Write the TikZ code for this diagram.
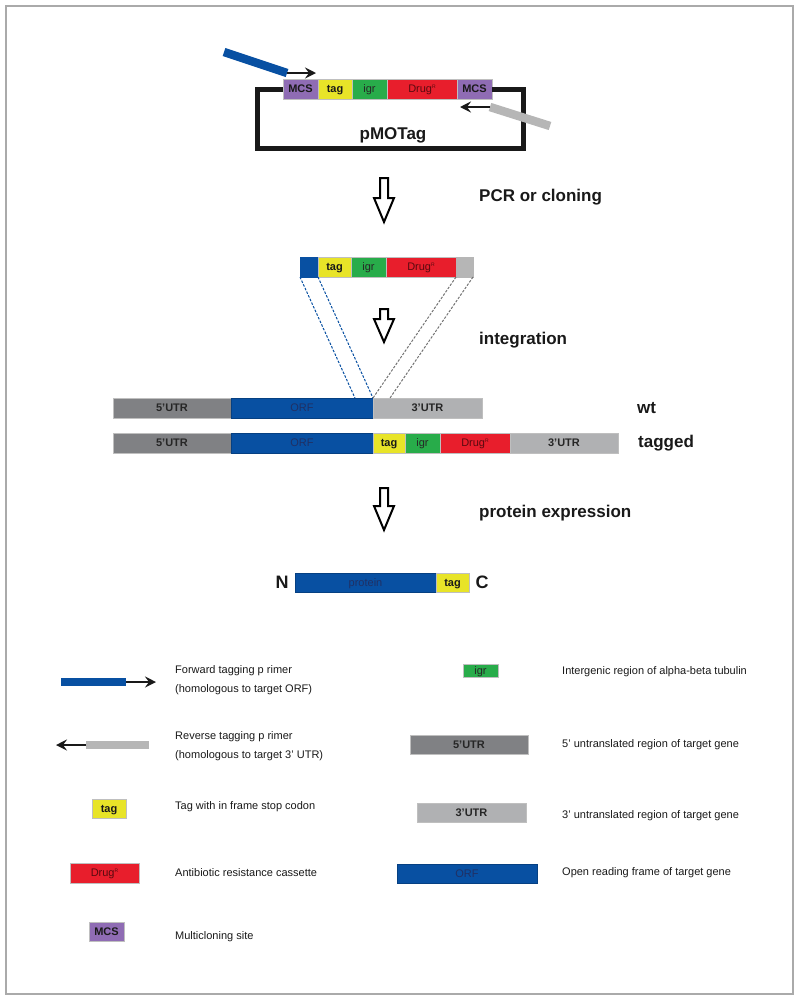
\documentclass[tikz,border=0pt]{standalone}
\usepackage{fontspec}
\setmainfont{Liberation Sans}
\usetikzlibrary{arrows.meta}
\definecolor{mcsc}{RGB}{143,108,180}
\definecolor{tagc}{RGB}{232,228,40}
\definecolor{igrc}{RGB}{40,172,74}
\definecolor{drugc}{RGB}{232,30,44}
\definecolor{orfc}{RGB}{8,80,162}
\definecolor{utrf}{RGB}{128,129,132}
\definecolor{utrt}{RGB}{176,177,179}
\definecolor{primg}{RGB}{182,182,182}
\definecolor{orftext}{RGB}{32,48,100}
\definecolor{framec}{RGB}{170,170,170}
\newcommand\drugR{Drug\raisebox{0.8ex}{\fontsize{5}{5}\selectfont R}}
\newcommand\segbox[7]{\node[#6, minimum width={#4-#2}, minimum height={#5-#3}] (#1) at ({(#2+#4)/2},{(#3+#5)/2}) {#7};}
\newcommand\hollowarrow[4]{\draw[hollowarr] ({#1-4},#2) -- ({#1-4},#3) -- ({#1-10},#3) -- (#1,#4) -- ({#1+10},#3) -- ({#1+4},#3) -- ({#1+4},#2) -- cycle;}
\tikzset{
  seg/.style={inner sep=0pt, outer sep=0pt, draw=black!25, line width=0.4pt, text=black!90, font=\fontsize{11}{12}\selectfont, text height=7.9pt, text depth=0pt},
  mcsbox/.style={seg, fill=mcsc, font=\fontsize{11}{12}\selectfont\bfseries},
  tagbox/.style={seg, fill=tagc, font=\fontsize{11}{12}\selectfont\bfseries},
  igrbox/.style={seg, fill=igrc, text=black!85},
  drugbox/.style={seg, fill=drugc, text={rgb,255:red,90;green,10;blue,15}},
  orfbox/.style={seg, fill=orfc, draw=orfc!80!black, text=orftext},
  fivebox/.style={seg, fill=utrf, text=black!85, font=\fontsize{11}{12}\selectfont\bfseries},
  threebox/.style={seg, fill=utrt, text=black!85, font=\fontsize{11}{12}\selectfont\bfseries},
  primgbox/.style={seg, fill=primg, draw=primg},
  bluebox/.style={seg, fill=orfc, draw=orfc},
  steplabel/.style={anchor=west, inner sep=0pt, font=\fontsize{17}{20}\selectfont\bfseries, text=black!90},
  bigletter/.style={inner sep=0pt, font=\fontsize{18}{20}\selectfont\bfseries, text=black!90},
  legtext/.style={anchor=west, inner sep=0pt, align=left, font=\fontsize{11}{19}\selectfont, text=black!90},
  hollowarr/.style={draw=black, line width=2pt, line join=miter, fill=white},
  primerblue/.style={draw=orfc, line width=8.5pt, line cap=butt},
  primergray/.style={draw=primg, line width=8.5pt, line cap=butt},
  primerarrow/.style={draw=black!90, line width=2.6pt, -{Stealth[length=11pt,width=11pt,inset=4pt]}},
  loopline/.style={draw=black!90, line width=5pt, line join=miter},
  bluedash/.style={draw=orfc, line width=1pt, dash pattern=on 2.5pt off 1.5pt},
  graydash/.style={draw=black!55, line width=1pt, dash pattern=on 2.5pt off 1.5pt}
}
\begin{document}
\begin{tikzpicture}[x=1pt, y=-1pt]
\useasboundingbox (0,0) rectangle (800,1002);
\draw[framec, line width=1.2pt] (6,6) rectangle (793,994);

% plasmid
\segbox{m1}{283}{79}{318}{99}{mcsbox}{MCS}
\segbox{pt}{318}{79}{352}{99}{tagbox}{tag}
\segbox{pi}{352}{79}{387}{99}{igrbox}{igr}
\segbox{pd}{387}{79}{457}{99}{drugbox}{\drugR}
\segbox{m2}{457}{79}{492}{99}{mcsbox}{MCS}
\draw[loopline] (m1.west) -- (257,89) -- (257,148) -- (523,148) -- (523,89) -- (m2.east);
\node[inner sep=0pt, font=\fontsize{17}{20}\selectfont\bfseries, text=black!90] (pmo) at (393,135) {pMOTag};
\coordinate (fb1) at (224,52);
\coordinate (fb2) at (287,73);
\coordinate (fa) at (316,73);
\draw[primerblue] (fb1) -- (fb2);
\draw[primerarrow] (fb2) -- (fa);
\coordinate (rb1) at (550,126);
\coordinate (rb2) at (490,107);
\coordinate (ra) at (460,107);
\draw[primergray] (rb1) -- (rb2);
\draw[primerarrow] (rb2) -- (ra);

% step 1
\hollowarrow{384}{178}{198}{222}
\node[steplabel] (s1) at (479,197) {PCR or cloning};

% cassette
\segbox{cb}{300}{257}{318}{277}{bluebox}{}
\segbox{ct}{318}{257}{351}{277}{tagbox}{tag}
\segbox{ci}{351}{257}{386}{277}{igrbox}{igr}
\segbox{cd}{386}{257}{456}{277}{drugbox}{\drugR}
\segbox{cg}{456}{257}{473}{277}{primgbox}{}

% step 2
\hollowarrow{384}{309}{319}{342}
\node[steplabel] (s2) at (479,340) {integration};

% wt
\segbox{w5}{113}{398}{231}{418}{fivebox}{5'UTR}
\segbox{wo}{231}{398}{373}{418}{orfbox}{ORF}
\segbox{w3}{373}{398}{482}{418}{threebox}{3'UTR}
\node[steplabel] (wt) at (637,408) {wt};

% dashed
\coordinate (bd1) at (355,398);
\coordinate (gd2) at (390,398);
\draw[bluedash] (cb.south west) -- (bd1);
\draw[bluedash] (cb.south east) -- (wo.north east);
\draw[graydash] (cd.south east) -- (wo.north east);
\draw[graydash] (cg.south east) -- (gd2);

% tagged
\segbox{t5}{113}{433}{231}{453}{fivebox}{5'UTR}
\segbox{to}{231}{433}{373}{453}{orfbox}{ORF}
\segbox{tt}{373}{433}{405}{453}{tagbox}{tag}
\segbox{ti}{405}{433}{440}{453}{igrbox}{igr}
\segbox{td}{440}{433}{510}{453}{drugbox}{\drugR}
\segbox{t3}{510}{433}{618}{453}{threebox}{3'UTR}
\node[steplabel] (tg) at (638,443) {tagged};

% step 3
\hollowarrow{384}{488}{506}{530}
\node[steplabel] (s3) at (479,513) {protein expression};

% protein
\segbox{pp}{295}{573}{436}{592}{orfbox}{protein}
\segbox{ptg}{436}{573}{469}{592}{tagbox}{tag}
\node[bigletter] (nn) at (282,582) {N};
\node[bigletter] (cc) at (482,582) {C};

% legend left
\coordinate (lf1) at (61,682);
\coordinate (lf2) at (126,682);
\coordinate (lf3) at (156,682);
\draw[primerblue] (lf1) -- (lf2);
\draw[primerarrow] (lf2) -- (lf3);
\node[legtext] (lft) at (175,680.5) {Forward tagging p rimer\\(homologous to target ORF)};
\coordinate (lr1) at (149,745);
\coordinate (lr2) at (86,745);
\coordinate (lr3) at (56,745);
\draw[primergray] (lr1) -- (lr2);
\draw[primerarrow] (lr2) -- (lr3);
\node[legtext] (lrt) at (175,746.5) {Reverse tagging p rimer\\(homologous to target 3' UTR)};
\segbox{ltag}{92}{799}{126}{818}{tagbox}{tag}
\node[legtext] (ltagt) at (175,807) {Tag with in frame stop codon};
\segbox{ldrug}{70}{863}{139}{883}{drugbox}{\drugR}
\node[legtext] (ldrugt) at (175,873) {Antibiotic resistance cassette};
\segbox{lmcs}{89}{922}{124}{941}{mcsbox}{MCS}
\node[legtext] (lmcst) at (175,937) {Multicloning site};

% legend right
\segbox{ligr}{463}{664}{498}{677}{igrbox}{igr}
\node[legtext] (ligrt) at (562,672) {Intergenic region of alpha-beta tubulin};
\segbox{l5}{410}{735}{528}{754}{fivebox}{5'UTR}
\node[legtext] (l5t) at (562,745) {5' untranslated region of target gene};
\segbox{l3}{417}{803}{526}{822}{threebox}{3'UTR}
\node[legtext] (l3t) at (562,816) {3' untranslated region of target gene};
\segbox{lorf}{397}{864}{537}{883}{orfbox}{ORF}
\node[legtext] (lorft) at (562,873) {Open reading frame of target gene};
\end{tikzpicture}
\end{document}
